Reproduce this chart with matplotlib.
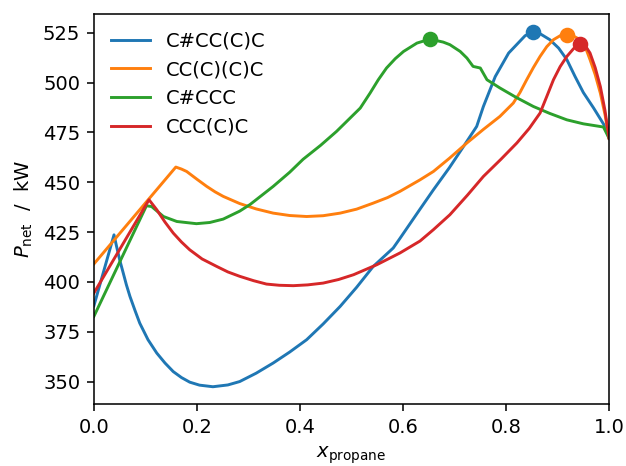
import numpy as np
import matplotlib
matplotlib.use('Agg')
import matplotlib.pyplot as plt

# mole fraction of propane vs net power output, per working fluid
x_blue = [0.0, 0.039, 0.044, 0.050, 0.057, 0.063, 0.070, 0.080, 0.089, 0.105, 0.122, 0.138, 0.154,
          0.170, 0.186, 0.205, 0.231, 0.260, 0.283, 0.315, 0.348, 0.380, 0.413, 0.445, 0.478, 0.510,
          0.542, 0.581, 0.594, 0.633, 0.659, 0.690, 0.714, 0.743, 0.756, 0.779, 0.805, 0.837, 0.853,
          0.866, 0.885, 0.902, 0.918, 0.934, 0.950, 0.970, 0.992, 1.0]
p_blue = [388.0, 423.6, 417.8, 411.1, 404.4, 398.6, 392.7, 385.5, 379.3, 371.0, 364.3, 359.3, 355.0,
          352.0, 349.7, 348.2, 347.4, 348.3, 350.0, 354.2, 359.3, 364.8, 371.0, 378.9, 387.7, 397.3,
          407.7, 417.0, 421.8, 436.5, 446.2, 457.3, 466.6, 478.0, 488.0, 503.0, 514.8, 523.5, 525.5,
          524.5, 521.5, 517.3, 511.5, 503.0, 495.0, 487.2, 478.0, 472.0]

x_orange = [0.0, 0.159, 0.170, 0.180, 0.200, 0.219, 0.235, 0.251, 0.283, 0.315, 0.348, 0.380, 0.413,
            0.445, 0.478, 0.510, 0.542, 0.570, 0.594, 0.633, 0.659, 0.690, 0.724, 0.756, 0.788, 0.814,
            0.827, 0.840, 0.853, 0.866, 0.879, 0.892, 0.905, 0.918, 0.931, 0.944, 0.955, 0.963, 0.973,
            0.983, 0.992, 1.0]
p_orange = [409.0, 457.6, 456.6, 455.4, 451.5, 447.9, 445.2, 442.9, 439.3, 436.6, 434.5, 433.3, 432.8,
            433.2, 434.5, 436.5, 439.5, 442.3, 445.4, 451.2, 455.4, 462.0, 469.7, 476.5, 483.0, 489.7,
            495.0, 501.4, 507.5, 513.1, 518.0, 521.5, 523.5, 524.0, 523.3, 521.5, 517.0, 511.5, 504.0,
            494.7, 484.0, 472.0]

x_green = [0.0, 0.102, 0.112, 0.135, 0.161, 0.199, 0.225, 0.251, 0.283, 0.303, 0.348, 0.380, 0.406,
           0.440, 0.471, 0.517, 0.536, 0.552, 0.568, 0.585, 0.601, 0.627, 0.652, 0.678, 0.691, 0.711,
           0.724, 0.736, 0.750, 0.763, 0.788, 0.820, 0.853, 0.885, 0.918, 0.950, 0.989, 1.0]
p_green = [382.7, 438.2, 437.8, 432.8, 430.3, 429.2, 429.8, 431.5, 435.5, 438.8, 447.9, 455.0, 461.5,
           468.5, 475.5, 487.2, 494.7, 501.4, 507.3, 512.0, 515.6, 519.8, 521.8, 520.3, 519.0, 515.6,
           512.3, 508.1, 507.3, 501.4, 497.3, 492.5, 488.0, 484.5, 481.3, 479.3, 477.7, 472.0]

x_red = [0.0, 0.107, 0.122, 0.138, 0.154, 0.170, 0.186, 0.210, 0.238, 0.260, 0.283, 0.310, 0.335,
         0.360, 0.387, 0.415, 0.445, 0.475, 0.504, 0.549, 0.594, 0.633, 0.659, 0.691, 0.725, 0.756,
         0.790, 0.821, 0.845, 0.866, 0.879, 0.892, 0.905, 0.918, 0.931, 0.944, 0.955, 0.963, 0.973,
         0.983, 0.992, 1.0]
p_red = [394.4, 441.2, 436.2, 430.0, 424.5, 420.0, 416.1, 411.5, 407.8, 405.0, 402.8, 400.6, 398.9,
         398.3, 398.1, 398.5, 399.4, 401.2, 403.6, 408.6, 414.5, 420.5, 426.2, 433.7, 443.5, 452.9,
         461.5, 469.7, 477.0, 484.7, 493.0, 501.4, 508.0, 513.1, 517.0, 519.3, 518.0, 514.8, 507.5,
         498.0, 486.0, 472.0]

series = [('C#CC(C)C', x_blue, p_blue, 'tab:blue'),
          ('CC(C)(C)C', x_orange, p_orange, 'tab:orange'),
          ('C#CCC', x_green, p_green, 'tab:green'),
          ('CCC(C)C', x_red, p_red, 'tab:red')]

fig = plt.figure(figsize=(626/140, 466/140), dpi=140)
ax = fig.add_axes([0.150, 0.132, 0.823, 0.838])

for name, xs, ps, col in series:
    ax.plot(xs, ps, color=col, label=name)
# mark the maximum of each curve
for name, xs, ps, col in series:
    i = int(np.argmax(ps))
    ax.plot(xs[i], ps[i], 'o', color=col, markersize=7)

ax.set_xlim(0, 1)
ax.set_xlabel(r'$x_\mathrm{propane}$')
ax.set_ylabel(r'$P_\mathrm{net}$  /  kW')
ax.legend(loc='upper left', frameon=False)

fig.savefig('out.png', dpi=140)
